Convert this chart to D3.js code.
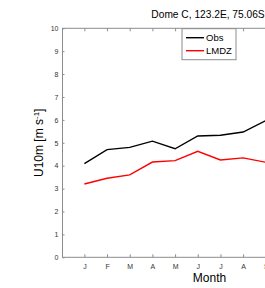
<!DOCTYPE html>
<html>
<head>
<meta charset="utf-8">
<script src="https://d3js.org/d3.v7.min.js"></script>
<style>
body { margin: 0; overflow: hidden; background: #fff; }
svg { display: block; }
</style>
</head>
<body>
<script>
var svgWidth = 265
var svgHeight = 288

var months = [1, 2, 3, 4, 5, 6, 7, 8, 9]
var monthLabels = ["J", "F", "M", "A", "M", "J", "J", "A", "S"]
var obs = [4.09, 4.70, 4.80, 5.07, 4.74, 5.30, 5.33, 5.47, 5.97]
var lmdz = [3.20, 3.45, 3.60, 4.16, 4.22, 4.63, 4.25, 4.34, 4.15]
var yTicks = [0, 1, 2, 3, 4, 5, 6, 7, 8, 9, 10]

var plotLeft = 62.5, plotRight = 356.5, plotTop = 28.3, plotBottom = 257.3

var svg = d3.select("body").append("svg")
  .attr("width", svgWidth)
  .attr("height", svgHeight)
  .style("font-family", "'Liberation Sans', Arial, sans-serif")

var x = d3.scaleLinear().domain([0, 13]).range([plotLeft - 0.8, plotRight])
var y = d3.scaleLinear().domain([0, 10]).range([plotBottom, plotTop])

// box
svg.append("rect")
  .attr("x", plotLeft).attr("y", plotTop)
  .attr("width", plotRight - plotLeft).attr("height", plotBottom - plotTop)
  .attr("fill", "none").attr("stroke", "#8c8c8c").attr("stroke-width", 1)

// bottom ticks (inward)
var bottomAxis = d3.axisBottom(x).tickValues(months)
  .tickFormat(function(d, i) { return monthLabels[i] })
  .tickSizeInner(-3).tickSizeOuter(0).tickPadding(7)
var gx = svg.append("g").attr("transform", "translate(0," + plotBottom + ")").call(bottomAxis)
gx.select(".domain").remove()
gx.selectAll("line").attr("stroke", "#8c8c8c")
gx.selectAll("text").attr("font-size", 7).attr("fill", "#333")

var topAxis = d3.axisTop(x).tickValues(months).tickFormat("")
  .tickSizeInner(-3).tickSizeOuter(0)
var gt = svg.append("g").attr("transform", "translate(0," + plotTop + ")").call(topAxis)
gt.select(".domain").remove()
gt.selectAll("line").attr("stroke", "#8c8c8c")

var leftAxis = d3.axisLeft(y).tickValues(yTicks)
  .tickSizeInner(-2).tickSizeOuter(0).tickPadding(4)
var gy = svg.append("g").attr("transform", "translate(" + plotLeft + ",0)").call(leftAxis)
gy.select(".domain").remove()
gy.selectAll("line").attr("stroke", "#8c8c8c")
gy.selectAll("text").attr("font-size", 7).attr("fill", "#333")

var line = d3.line()
  .x(function(d, i) { return x(months[i]) })
  .y(function(d) { return y(d) })

svg.append("path").datum(lmdz)
  .attr("d", line).attr("fill", "none")
  .attr("stroke", "#ff0000").attr("stroke-width", 1.4)

svg.append("path").datum(obs)
  .attr("d", line).attr("fill", "none")
  .attr("stroke", "#000").attr("stroke-width", 1.4)

// legend
var lg = svg.append("g")
lg.append("rect")
  .attr("x", 182).attr("y", 28.7).attr("width", 54).attr("height", 31)
  .attr("fill", "#fff").attr("stroke", "#8c8c8c")
var series = [["Obs", "#000"], ["LMDZ", "#ff0000"]]
series.forEach(function(s, i) {
  var ly = 37.7 + i * 13
  lg.append("line").attr("x1", 186).attr("x2", 204).attr("y1", ly).attr("y2", ly)
    .attr("stroke", s[1]).attr("stroke-width", 1.4)
  lg.append("text").attr("x", 206).attr("y", ly + 3.5).attr("font-size", 9.5)
    .attr("fill", "#000").text(s[0])
})

// title and labels
svg.append("text")
  .attr("x", 208).attr("y", 18)
  .attr("text-anchor", "middle").attr("font-size", 10.2)
  .text("Dome C, 123.2E, 75.06S")

svg.append("text")
  .attr("x", (plotLeft + plotRight) / 2).attr("y", 282)
  .attr("text-anchor", "middle").attr("font-size", 12)
  .text("Month")

var yl = svg.append("text")
  .attr("transform", "translate(43," + (plotTop + plotBottom) / 2 + ") rotate(-90)")
  .attr("text-anchor", "middle").attr("font-size", 12)
yl.append("tspan").text("U10m [m s")
yl.append("tspan").attr("dy", -4).attr("font-size", 8).text("-1")
yl.append("tspan").attr("dy", 4).text("]")
</script>
</body>
</html>
